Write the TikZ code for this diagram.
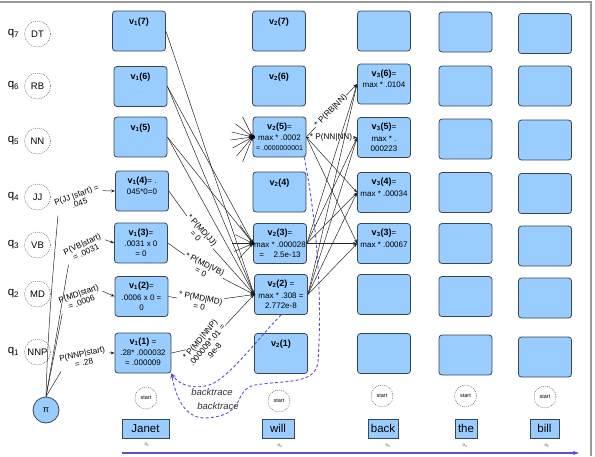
\documentclass[tikz,border=0pt]{standalone}
\usepackage{fontspec}
\setmainfont{Liberation Sans}
\usetikzlibrary{arrows.meta,calc}
\definecolor{boxblue}{RGB}{153,204,255}
\definecolor{boxline}{RGB}{58,70,86}
\definecolor{trace}{RGB}{92,80,208}
\newcommand\vhd[2]{{\fontsize{9}{10}\selectfont\bfseries v\textsubscript{#1}(#2)}}
\begin{document}
\begin{tikzpicture}[x=1pt,y=-1pt,
  vbox/.style={draw=boxline,fill=boxblue,rounded corners=3pt,minimum width=53pt,minimum height=40pt,inner sep=0pt,line width=0.8pt},
  btxt/.style={anchor=north,align=center,inner sep=0pt,font=\fontsize{8}{9.6}\selectfont},
  wbox/.style={draw=boxline,fill=boxblue,minimum height=19pt,inner sep=0pt,line width=0.8pt,font=\fontsize{11.5}{13}\selectfont},
  qcirc/.style={circle,draw=black!70,dash pattern=on 1pt off 1pt,minimum size=26pt,inner sep=0pt,font=\fontsize{9.5}{11}\selectfont},
  scirc/.style={circle,draw=black!70,dash pattern=on 1pt off 1pt,minimum size=22pt,inner sep=0pt,font=\fontsize{5.5}{6}\selectfont},
  qlab/.style={font=\fontsize{11.5}{13}\selectfont,inner sep=0pt},
  plab/.style={align=center,inner sep=1pt,font=\fontsize{8.2}{9}\selectfont},
  olab/.style={font=\fontsize{4.5}{5}\selectfont,text=black!70,inner sep=0pt},
  arr/.style={-{Stealth[length=4pt,width=3pt]},line width=0.5pt,draw=black!85},
  ln/.style={line width=0.5pt,draw=black!85},
  btr/.style={draw=trace,line width=0.9pt,dash pattern=on 3pt off 2.2pt},
  btlab/.style={font=\fontsize{9.5}{10}\selectfont\itshape,text=black!80,inner sep=0pt}
]
\useasboundingbox (0,0) rectangle (595,456);
% frame
\coordinate (fa) at (0,2); \coordinate (fb) at (591,2); \coordinate (fc) at (591,456);
\draw[black!40,line width=1.5pt] (fa) -- (fb) -- (fc);

% q labels and state circles
\foreach \n/\t/\y in {7/DT/34,6/RB/86,5/NN/141,4/JJ/197,3/VB/245,2/MD/294,1/NNP/352}{
  \node[qlab] (q\n) at (13.5,\y) {q\textsubscript{\n}};
  \node[qcirc] (c\n) at (37.5,\y) {\t};
}
\node[circle,draw=boxline,fill=boxblue,minimum size=26pt,inner sep=0pt,line width=0.8pt,font=\fontsize{9}{10}\selectfont] (pi) at (46,410) {π};

% column 1
\node[vbox] (v17) at (139,31) {};
\node[btxt] (t17) at ([yshift=-7pt]v17.north) {\vhd{1}{7}};
\node[vbox] (v16) at (140.5,86.5) {};
\node[btxt] (t16) at ([yshift=-7pt]v16.north) {\vhd{1}{6}};
\node[vbox] (v15) at (140.5,137) {};
\node[btxt] (t15) at ([yshift=-7pt]v15.north) {\vhd{1}{5}};
\node[vbox] (v14) at (142,191) {};
\node[btxt] (t14) at ([yshift=-6pt]v14.north) {\vhd{1}{4}= .\\[2pt] 045*0=0};
\node[vbox] (v13) at (141,243) {};
\node[btxt] (t13) at ([yshift=-6pt]v13.north) {\vhd{1}{3}=\\[2pt] .0031 x 0\\ = 0};
\node[vbox] (v12) at (141.5,296.5) {};
\node[btxt] (t12) at ([yshift=-6pt]v12.north) {\vhd{1}{2}=\\[2pt] .0006 x 0 =\\ 0};
\node[vbox,minimum width=56pt] (v11) at (143,353) {};
\node[btxt] (t11) at ([yshift=-5pt]v11.north) {\vhd{1}{1} =\\[2pt] .28* .000032\\ = .000009};

% column 2
\node[vbox] (v27) at (279,31) {};
\node[btxt] (t27) at ([yshift=-7pt]v27.north) {\vhd{2}{7}};
\node[vbox] (v26) at (279,86) {};
\node[btxt] (t26) at ([yshift=-7pt]v26.north) {\vhd{2}{6}};
\node[vbox] (v25) at (279.5,137) {};
\node[btxt] (t25) at ([yshift=-6pt]v25.north) {\vhd{2}{5}=\\[2pt] max * .0002\\ {\fontsize{7}{8}\selectfont = .0000000001}};
\node[vbox] (v24) at (279.5,192) {};
\node[btxt] (t24) at ([yshift=-7pt]v24.north) {\vhd{2}{4}};
\node[vbox] (v23) at (280,243.5) {};
\node[btxt] (t23) at ([yshift=-6pt]v23.north) {\vhd{2}{3}=\\[2pt] max * .000028\\ =\hspace{1.2em}2.5e-13};
\node[vbox] (v22) at (281,294.5) {};
\node[btxt] (t22) at ([yshift=-6pt]v22.north) {\vhd{2}{2} =\\[2pt] max * .308 =\\ 2.772e-8};
\node[vbox] (v21) at (281,353.5) {};
\node[btxt] (t21) at ([yshift=-7pt]v21.north) {\vhd{2}{1}};

% column 3
\node[vbox] (v37) at (384,31) {};
\node[vbox] (v36) at (384,84) {};
\node[btxt] (t36) at ([yshift=-6pt]v36.north) {\vhd{3}{6}=\\[2pt] max * .0104};
\node[vbox] (v35) at (384,137.5) {};
\node[btxt] (t35) at ([yshift=-6pt]v35.north) {\vhd{3}{5}=\\[2pt] max * .\\ 000223};
\node[vbox] (v34) at (384,192.5) {};
\node[btxt] (t34) at ([yshift=-6pt]v34.north) {\vhd{3}{4}=\\[2pt] max * .00034};
\node[vbox] (v33) at (384,243.5) {};
\node[btxt] (t33) at ([yshift=-6pt]v33.north) {\vhd{3}{3}=\\[2pt] max * .00067};
\node[vbox] (v32) at (384,294.5) {};
\node[vbox] (v31) at (384,353.5) {};

% column 4 and 5
\foreach \r/\y in {7/32,6/86,5/139,4/192.5,3/243.5,2/296.5,1/355}{
  \node[vbox] (v4\r) at (465.5,\y) {};
}
\foreach \r/\y in {7/33.5,6/86,5/140,4/193.5,3/246,2/298,1/357}{
  \node[vbox] (v5\r) at (545,\y) {};
}

% start circles, words, o labels
\node[scirc] (s1) at (146,398) {start};
\node[scirc] (s2) at (279,401) {start};
\node[scirc] (s3) at (382,396) {start};
\node[scirc] (s4) at (465.5,396) {start};
\node[scirc] (s5) at (545,397) {start};
\node[wbox,minimum width=47pt] (w1) at (145.5,428.5) {Janet};
\node[wbox,minimum width=32pt] (w2) at (278,428.5) {will};
\node[wbox,minimum width=30pt] (w3) at (383,428.5) {back};
\node[wbox,minimum width=22pt] (w4) at (466,428.5) {the};
\node[wbox,minimum width=29pt] (w5) at (544.5,428.5) {bill};
\node[olab] (o1) at (147,445) {o\textsubscript{1}};
\node[olab] (o2) at (280,446) {o\textsubscript{2}};
\node[olab] (o3) at (388,446) {o\textsubscript{3}};
\node[olab] (o4) at (465,446) {o\textsubscript{4}};
\node[olab] (o5) at (547,446) {o\textsubscript{5}};
\coordinate (ta) at (122,453); \coordinate (tb) at (579,453);
\draw[draw=trace,line width=1.2pt,-{Stealth[length=6pt,width=4pt]}] (ta) -- (tb);

% start probabilities
\node[plab,rotate=20] (ljj) at (78,199) {P(JJ |start) =\\ .045};
\node[plab,rotate=25] (lvb) at (84,248) {P(VB|start)\\ = .0031};
\node[plab,rotate=20] (lmd) at (80,298) {P(MD|start)\\ = .0006};
\node[plab,rotate=12] (lnnp) at (83,358) {P(NNP|start)\\ = .28};
\draw[ln] (pi.north) .. controls (48,320) and (55,250) .. (ljj.south west);
\draw[ln] (pi.north) -- (lvb.south west);
\draw[ln] (pi.north) -- (lmd.south west);
\draw[ln] (pi.north) -- (lnnp.south west);
\draw[arr,shorten <=2pt] (ljj.east) -- (v14.west);
\draw[arr,shorten <=2pt] (lvb.east) -- (v13.west);
\draw[arr,shorten <=2pt] (lmd.east) -- (v12.west);
\draw[arr,shorten <=2pt] (lnnp.east) -- (v11.west);

% column 1 -> column 2
\draw[arr] (v17.east) -- (v22.west);
\draw[arr] (v16.east) -- (v22.west);
\draw[arr] (v15.east) -- (v22.west);
\draw[arr] (v16.east) -- (v23.west);
\draw[arr] (v15.east) -- (v23.west);
\node[plab,rotate=-48] (mjj) at (199,233) {* P(MD|JJ)\\ = 0};
\node[plab,rotate=-27] (mvb) at (203,268) {* P(MD|VB)\\ = 0};
\node[plab,rotate=-11] (mmd) at (200,302) {* P(MD|MD)\\ = 0};
\node[plab,rotate=50] (mnnp) at (207,345) {* P(MD|NNP)\\ .000009*.01 =\\ .9e-8};
\draw[ln] (v14.east) -- (mjj);
\draw[arr] (mjj) -- (v22.west);
\draw[ln] (v13.east) -- (mvb);
\draw[arr] (mvb) -- (v22.west);
\draw[ln] (v12.east) -- (mmd);
\draw[arr] (mmd) -- (v22.west);
\draw[ln] (v11.east) -- (mnnp);
\draw[arr] (mnnp) -- (v22.west);

% stubs into v2(5) and v2(3)
\foreach \dx/\dy [count=\i] in {-10/-20,-17/-13,-21/-5,-22/3,-20/11,-16/19,-10/25}{
  \coordinate (sa\i) at ($(v25.west)+(\dx,\dy)$);
  \draw[arr] (sa\i) -- (v25.west);
}
\foreach \dx/\dy [count=\i] in {-13/-18,-18/-9,-21/0,-19/8,-14/15}{
  \coordinate (sb\i) at ($(v23.west)+(\dx,\dy)$);
  \draw[arr] (sb\i) -- (v23.west);
}
\fill[black] (v25.west) circle (2.4pt);
\fill[black] (v23.west) circle (1.8pt);
\fill[black] (v22.west) circle (1.3pt);

% column 2 -> column 3
\node[plab,rotate=45] (lrb) at (331,111) {* P(RB|NN)};
\node[plab,fill=white] (lnn) at (331,137) {* P(NN|NN)};
\draw[ln] (v25.east) -- (lrb);
\draw[arr] (lrb) -- (v36.west);
\draw[ln] (v25.east) -- (lnn);
\draw[arr] (lnn) -- (v35.west);
\foreach \s/\t in {v25/v34,v25/v33,v23/v36,v23/v35,v23/v34,v23/v33,v22/v36,v22/v35,v22/v34,v22/v33}{
  \draw[arr] (\s.east) -- (\t.west);
}

% backtraces
\draw[btr,-{Stealth[length=5pt,width=4pt]}] (v22.south) .. controls (255,342) and (232,374) .. (212,384)
   .. controls (196,390) and (180,386) .. (v11.south east);
\draw[btr,-{Stealth[length=5pt,width=4pt]}] ([xshift=-2pt]v25.south east) .. controls (318,230) and (322,300) .. (318,362)
   .. controls (315,385) and (285,380) .. (255,385)
   .. controls (232,390) and (248,416) .. (205,418)
   .. controls (185,418) and (176,398) .. (v11.south east);
\node[btlab] (bt1) at (212,392) {backtrace};
\node[btlab] (bt2) at (218,406) {backtrace};
\end{tikzpicture}
\end{document}
